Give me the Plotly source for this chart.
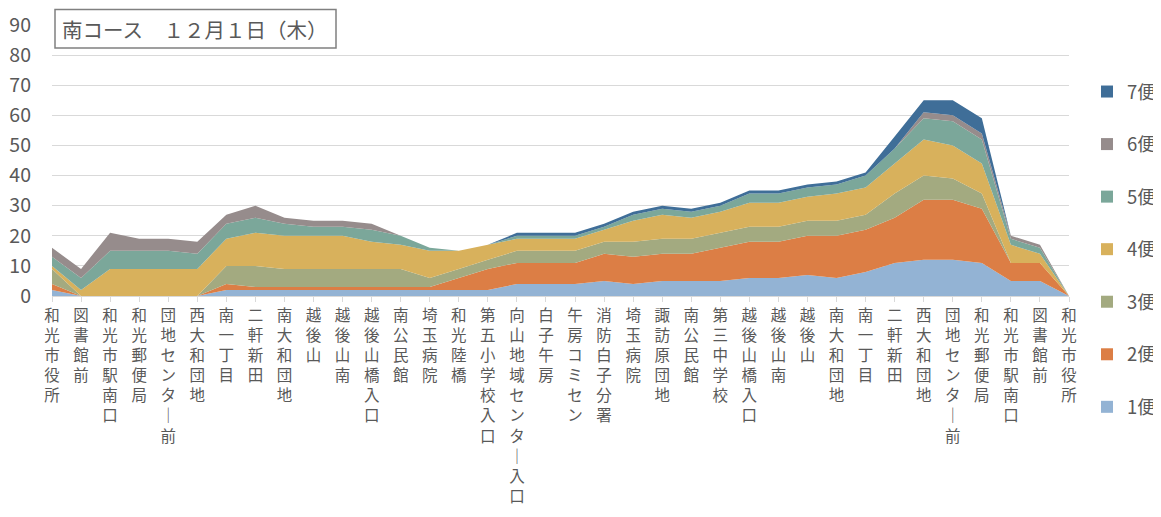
import plotly.graph_objects as go

stops = ["和光市役所", "図書館前", "和光市駅南口", "和光郵便局", "団地センター前", "西大和団地",
         "南一丁目", "二軒新田", "南大和団地", "越後山", "越後山南", "越後山橋入口",
         "南公民館", "埼玉病院", "和光陸橋", "第五小学校入口", "向山地域センター入口", "白子午房",
         "午房コミセン", "消防白子分署", "埼玉病院", "諏訪原団地", "南公民館", "第三中学校",
         "越後山橋入口", "越後山南", "越後山", "南大和団地", "南一丁目", "二軒新田",
         "西大和団地", "団地センター前", "和光郵便局", "和光市駅南口", "図書館前", "和光市役所"]

trip1 = [2, 0, 0, 0, 0, 0, 2, 2, 2, 2, 2, 2, 2, 2, 2, 2, 4, 4, 4, 5, 4, 5, 5, 5, 6, 6, 7, 6, 8, 11, 12, 12, 11, 5, 5, 0]
trip2 = [2, 0, 0, 0, 0, 0, 2, 1, 1, 1, 1, 1, 1, 1, 4, 7, 7, 7, 7, 9, 9, 9, 9, 11, 12, 12, 13, 14, 14, 15, 20, 20, 18, 6, 6, 0]
trip3 = [5, 0, 0, 0, 0, 0, 6, 7, 6, 6, 6, 6, 6, 3, 3, 3, 4, 4, 4, 4, 5, 5, 5, 5, 5, 5, 5, 5, 5, 8, 8, 7, 5, 0, 0, 0]
trip4 = [1, 2, 9, 9, 9, 9, 9, 11, 11, 11, 11, 9, 8, 9, 6, 5, 4, 4, 4, 4, 7, 8, 7, 7, 8, 8, 8, 9, 9, 10, 12, 11, 10, 6, 3, 0]
trip5 = [3, 4, 6, 6, 6, 5, 5, 5, 4, 3, 3, 4, 3, 1, 0, 0, 1, 1, 1, 1, 2, 2, 2, 2, 3, 3, 3, 3, 4, 5, 7, 8, 8, 2, 2, 0]
trip6 = [3, 3, 6, 4, 4, 4, 3, 4, 2, 2, 2, 2, 0, 0, 0, 0, 0, 0, 0, 0, 0, 0, 0, 0, 0, 0, 0, 0, 0, 0, 2, 2, 2, 1, 1, 0]
trip7 = [0, 0, 0, 0, 0, 0, 0, 0, 0, 0, 0, 0, 0, 0, 0, 0, 1, 1, 1, 1, 1, 1, 1, 1, 1, 1, 1, 1, 1, 4, 4, 5, 5, 0, 0, 0]

series_names = ["1便", "2便", "3便", "4便", "5便", "6便", "7便"]
series_values = [trip1, trip2, trip3, trip4, trip5, trip6, trip7]
colors = ["#93B3D4", "#DC7E45", "#A3AA80", "#D8B15C", "#7BA79A", "#968C8C", "#3F6E98"]

y_ticks = [0, 10, 20, 30, 40, 50, 60, 70, 80, 90]
title_text = "南コース　１２月１日（木）"

FONT = "Noto Sans CJK JP, Noto Sans, sans-serif"
TXT = "#595959"

# page body has an 8px default margin; the figure is sized/offset to compensate
OFF = 8
PLOT_L, PLOT_R, PLOT_T, PLOT_B = 52, 1069, 25, 296   # plot area in window pixels
PW, PH = PLOT_R - PLOT_L, PLOT_B - PLOT_T

x = list(range(len(stops)))


def vertical(label):
    return "<br>".join(ch if ch != "ー" else "｜" for ch in label)


def px(xp):
    return (xp - PLOT_L) / PW


def py(yp):
    return (PLOT_B - yp) / PH


fig = go.Figure()
for name, vals, col in zip(series_names, series_values, colors):
    fig.add_trace(go.Scatter(
        x=x, y=vals, name=name, stackgroup="one", mode="none",
        fillcolor=col, line=dict(width=0), showlegend=False,
        hoverinfo="x+y+name",
    ))

# legend entries (square markers), top item = 7便
for name, col in reversed(list(zip(series_names, colors))):
    fig.add_trace(go.Scatter(
        x=[None], y=[None], mode="markers", name=name, legendgroup=name,
        marker=dict(symbol="square", size=12, color=col), showlegend=True,
    ))

W, H = 1161 - OFF, 517 - OFF
fig.update_layout(
    width=W, height=H,
    margin=dict(l=PLOT_L - OFF, r=W - (PLOT_R - OFF), t=PLOT_T - OFF, b=H - (PLOT_B - OFF),
                pad=0, autoexpand=False),
    paper_bgcolor="white", plot_bgcolor="white",
    font=dict(family=FONT, color=TXT),
    showlegend=True,
    legend=dict(
        x=px(1087), xanchor="left", y=py(73), yanchor="top",
        traceorder="grouped", tracegroupgap=25.5, maxheight=480,
        font=dict(size=18.5, color=TXT, family=FONT),
        itemwidth=30, bgcolor="rgba(0,0,0,0)",
    ),
    xaxis=dict(
        range=[0, len(stops) - 1], tickmode="array", tickvals=x,
        ticktext=[vertical(s) for s in stops],
        tickfont=dict(size=15.5, color=TXT, family=FONT),
        showgrid=False, zeroline=False, automargin=False,
        showline=True, linecolor="#d9d9d9", linewidth=1,
        ticks="outside", ticklen=5, tickcolor="#d9d9d9", tickangle=0,
    ),
    yaxis=dict(
        range=[0, 90], tickmode="array", tickvals=y_ticks,
        tickfont=dict(size=19.5, color=TXT, family=FONT),
        showgrid=True, gridcolor="#d9d9d9", gridwidth=1.3, automargin=False,
        zeroline=False, showline=False, ticks="", ticklabelstandoff=20,
    ),
)

fig.add_shape(type="rect", xref="paper", yref="paper",
              x0=px(55), x1=px(336), y0=py(48), y1=py(9.5),
              line=dict(color="#808080", width=1.5), fillcolor="white", layer="above")
fig.add_annotation(xref="paper", yref="paper",
                   x=px(60), y=py(28.5),
                   xanchor="left", yanchor="middle", showarrow=False,
                   text=title_text, font=dict(size=20.5, color=TXT, family=FONT))

fig.write_html("out.html")
